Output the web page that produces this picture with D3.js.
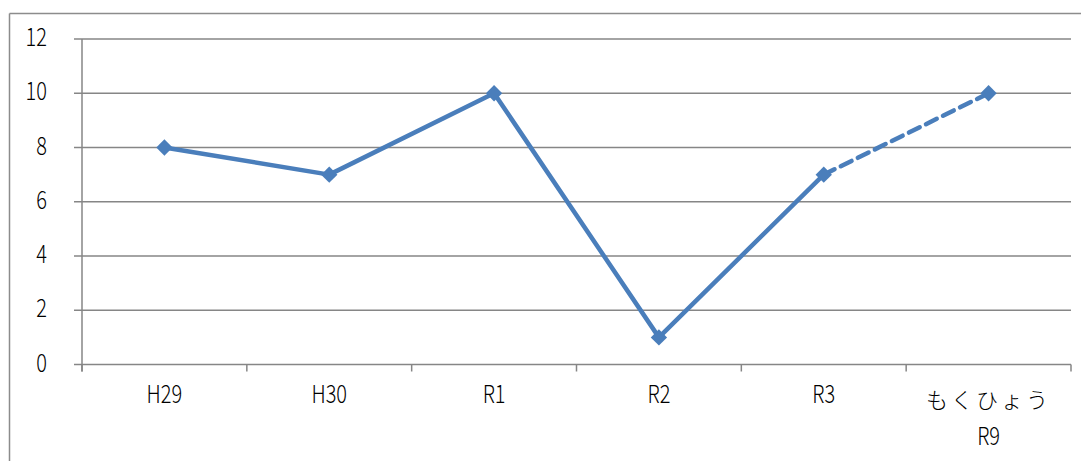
<!DOCTYPE html>
<html><head><meta charset="utf-8">
<script src="https://cdn.jsdelivr.net/npm/d3@7"></script>
<style>
html,body{margin:0;padding:0;background:#fff;}
svg{display:block;}
text{font-family:"Noto Sans CJK JP","Noto Sans",sans-serif;fill:#000;font-weight:300;}
</style></head>
<body>
<svg id="c" width="1081" height="461"></svg>
<script>
const categories = [["H29"],["H30"],["R1"],["R2"],["R3"],["もくひょう","R9"]];
const actualValues = [8, 7, 10, 1, 7];
const targetValues = [null, null, null, null, 7, 10];
const yTicks = [0, 2, 4, 6, 8, 10, 12];

(function(){
const svg = d3.select("#c");
const W = 1081, H = 461;
const mLeft = 82, mRight = 1071, mTop = 39, mBottom = 364.5;

// outer frame (top and left edges visible)
svg.append("line").attr("x1",9.5).attr("x2",W).attr("y1",13.5).attr("y2",13.5)
  .attr("stroke","#8c8c8c").attr("stroke-width",1.5);
svg.append("line").attr("x1",9.5).attr("x2",9.5).attr("y1",13.5).attr("y2",H)
  .attr("stroke","#8c8c8c").attr("stroke-width",1.5);

const x = d3.scaleBand().domain(d3.range(categories.length)).range([mLeft, mRight]);
const y = d3.scaleLinear().domain([0, 12]).range([mBottom, mTop]);

// gridlines
svg.append("g").selectAll("line").data(yTicks).join("line")
  .attr("x1", mLeft-8).attr("x2", mRight)
  .attr("y1", d=>y(d)).attr("y2", d=>y(d))
  .attr("stroke","#868686").attr("stroke-width",1.5);

// y axis line
svg.append("line").attr("x1",mLeft).attr("x2",mLeft).attr("y1",mTop).attr("y2",mBottom+7)
  .attr("stroke","#868686").attr("stroke-width",1.5);

// x ticks at band boundaries
const bounds = d3.range(categories.length+1).map(i => mLeft + i*x.step());
svg.append("g").selectAll("line").data(bounds).join("line")
  .attr("x1", d=>d).attr("x2", d=>d).attr("y1", mBottom).attr("y2", mBottom+7)
  .attr("stroke","#868686").attr("stroke-width",1.5);

// y labels
svg.append("g").selectAll("text").data(yTicks).join("text")
  .attr("transform", d=>`translate(47,${y(d)+7}) scale(0.8,1)`)
  .attr("text-anchor","end").attr("font-size",25).text(d=>d);

// x labels
const xl = svg.append("g");
categories.forEach((lines, i) => {
  const cx = x(i) + x.bandwidth()/2;
  if (lines.length === 1) {
    xl.append("text").attr("transform",`translate(${cx},403) scale(0.8,1)`)
      .attr("text-anchor","middle").attr("font-size",25).text(lines[0]);
  } else {
    xl.append("text").attr("x",cx).attr("y",408).attr("text-anchor","middle")
      .attr("font-size",22).attr("letter-spacing","3px").text(lines[0]);
    xl.append("text").attr("transform",`translate(${cx},445) scale(0.8,1)`)
      .attr("text-anchor","middle").attr("font-size",25).text(lines[1]);
  }
});

const color = "#4a7ebb";
const px = i => x(i) + x.bandwidth()/2;

const lineGen = d3.line().defined(d=>d!=null).x((d,i)=>px(i)).y(d=>y(d));
svg.append("path").datum(targetValues).attr("d", lineGen)
  .attr("fill","none").attr("stroke",color).attr("stroke-width",4.5)
  .attr("stroke-dasharray","12,7").attr("stroke-linecap","round");
svg.append("path").datum(actualValues).attr("d", lineGen)
  .attr("fill","none").attr("stroke",color).attr("stroke-width",4.5)
  .attr("stroke-linejoin","round");

const diamond = d3.symbol().type(d3.symbolDiamond2).size(170);
const allPts = [];
actualValues.forEach((v,i)=>{ if(v!=null) allPts.push([i,v]); });
targetValues.forEach((v,i)=>{ if(v!=null && actualValues[i]==null) allPts.push([i,v]); });
svg.append("g").selectAll("path").data(allPts).join("path")
  .attr("d", diamond).attr("transform", d=>`translate(${px(d[0])},${y(d[1])})`)
  .attr("fill",color);
})();
</script>
</body></html>
